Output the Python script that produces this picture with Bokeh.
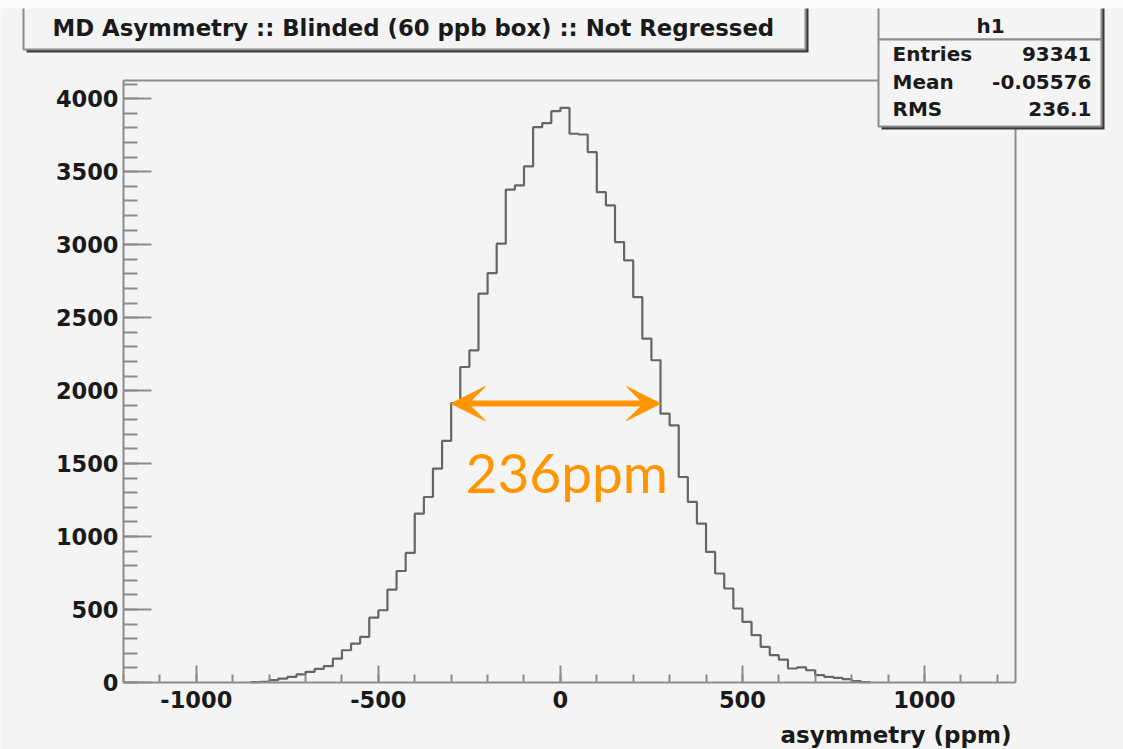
import numpy as np
from bokeh.plotting import figure
from bokeh.models import (Label, Arrow, VeeHead, SingleIntervalTicker, Range1d,
                          LinearAxis, PrintfTickFormatter, FixedTicker)
from bokeh.embed import file_html
from bokeh.resources import INLINE

# ---------------- data ----------------
bin_start = -850          # left edge of first bin (ppm)
bin_width = 25            # ppm
counts = [2, 5, 16, 27, 38, 55, 73, 93, 112, 164,
          221, 267, 312, 445, 495, 637, 764, 888, 1157, 1271,
          1466, 1655, 1915, 2162, 2276, 2664, 2805, 3007, 3377, 3406,
          3536, 3805, 3833, 3915, 3938, 3760, 3755, 3634, 3360, 3269,
          3018, 2892, 2641, 2356, 2208, 1842, 1762, 1408, 1237, 1089,
          895, 747, 644, 507, 415, 324, 244, 187, 157, 96,
          103, 84, 50, 38, 32, 23, 10, 3]
title_text = "MD Asymmetry :: Blinded (60 ppb box) :: Not Regressed"
hist_name = "h1"
stat_names = ["Entries", "Mean", "RMS"]
stat_values = ["93341", "-0.05576", "236.1"]
x_title = "asymmetry (ppm)"
width_from, width_to, width_level = -300, 275, 1911
width_text = "236ppm"
x_lim = (-1200, 1250)
y_lim = (0, 4125)
tick_step = 500

# ---------------- layout helpers ----------------
W, H = 1123, 749
FL, FR, FT, FB = 123, 1015, 80, 682     # ROOT frame, in picture pixels
BG = "#f4f4f4"
FONT = "DejaVu Sans"
AXC = "#8c8c8c"

def X(px):
    return x_lim[0] + (px - FL) * (x_lim[1] - x_lim[0]) / (FR - FL)

def Y(py):
    return y_lim[0] + (FB - py) * (y_lim[1] - y_lim[0]) / (FB - FT)

# the bokeh frame covers the whole canvas; axes are pinned at the ROOT frame edges
p = figure(width=W, height=H, output_backend="svg", toolbar_location=None,
           x_range=Range1d(X(0), X(W)), y_range=Range1d(Y(H), Y(0)),
           min_border=0, min_border_left=0, min_border_right=0,
           min_border_top=0, min_border_bottom=0)
p.title.visible = False
p.background_fill_color = BG
p.border_fill_color = BG
p.grid.visible = False
p.outline_line_color = None

xa = p.xaxis[0]
ya = p.yaxis[0]
xa.fixed_location = y_lim[0]
ya.fixed_location = x_lim[0]
xa.bounds = x_lim
ya.bounds = y_lim

for ax, tin, tmin, stand in ((xa, 17, 8, 8), (ya, 28, 14, 5)):
    ax.ticker = SingleIntervalTicker(interval=tick_step, num_minor_ticks=5)
    ax.formatter = PrintfTickFormatter(format="%d")
    ax.major_tick_in = tin
    ax.major_tick_out = 0
    ax.minor_tick_in = tmin
    ax.minor_tick_out = 0
    ax.axis_line_color = AXC
    ax.axis_line_width = 2
    ax.major_tick_line_color = AXC
    ax.major_tick_line_width = 2
    ax.minor_tick_line_color = AXC
    ax.minor_tick_line_width = 2
    ax.major_label_text_font = FONT
    ax.major_label_text_font_style = "bold"
    ax.major_label_text_font_size = "22.5px"
    ax.major_label_text_color = "#1a1a1a"
    ax.major_label_standoff = stand

# top and right frame lines (ROOT frame) as tick-less axes
for side, loc, bnd in (("above", y_lim[1], x_lim), ("right", x_lim[1], y_lim)):
    fa = LinearAxis(fixed_location=loc, bounds=bnd, axis_line_color=AXC, axis_line_width=2,
                    ticker=FixedTicker(ticks=[]),
                    major_tick_line_color=None, minor_tick_line_color=None)
    p.add_layout(fa, side)

# ---------------- histogram ----------------
edges = bin_start + bin_width * np.arange(len(counts) + 1)
xs = [edges[0]] + list(edges[:-1]) + [edges[-1]]
ys = [0] + list(counts) + [0]
p.step(xs, ys, mode="after", line_color="#666666", line_width=2.2)

# ---------------- width annotation ----------------
orange = "#ff9500"
p.add_layout(Arrow(x_start=width_from, y_start=width_level, x_end=width_to, y_end=width_level,
                   line_color=orange, line_width=6,
                   start=VeeHead(size=34, fill_color=orange, line_color=orange),
                   end=VeeHead(size=34, fill_color=orange, line_color=orange)))
p.add_layout(Label(x=X(465), y=Y(471.5), text=width_text, text_font="Lato",
                   text_font_size="55px", text_color=orange,
                   text_align="left", text_baseline="alphabetic"))

# ---------------- boxes (title, stats) ----------------
def box(l, t, r, b, fill, line=None, lw=2):
    p.quad(left=X(l), right=X(r), top=Y(t), bottom=Y(b), fill_color=fill,
           line_color=line, line_width=lw, level="annotation")

def txt(px, py, s, size, align="left"):
    p.add_layout(Label(x=X(px), y=Y(py), text=s, text_font=FONT, text_font_style="bold",
                       text_font_size=size, text_color="#1a1a1a",
                       text_align=align, text_baseline="middle"))

# title pave
box(26, -6, 808, 52, "#3a3a3a")
box(23, -9, 805, 49, BG, AXC)
txt(52, 27, title_text, "22.8px")

# stats pave
box(881, -6, 1104, 129, "#3a3a3a")
box(878, -9, 1101, 39, BG, AXC)
box(878, 39, 1101, 126, BG, AXC)
txt(990, 25, hist_name, "20px", "center")
for i, (n, v) in enumerate(zip(stat_names, stat_values)):
    yy = 53.5 + i * 27.5
    txt(892, yy, n, "20px")
    txt(1091, yy, v, "20px", "right")

# light strip at the very top of the picture
box(-2, -5, W + 2, 8, "#fbfbfb")

# axis title (right aligned, ROOT style)
p.add_layout(Label(x=X(1011), y=Y(734), text=x_title, text_font=FONT, text_font_style="bold",
                   text_font_size="23px", text_color="#1a1a1a",
                   text_align="right", text_baseline="alphabetic"))

open("out.html", "w").write(file_html(p, INLINE))
